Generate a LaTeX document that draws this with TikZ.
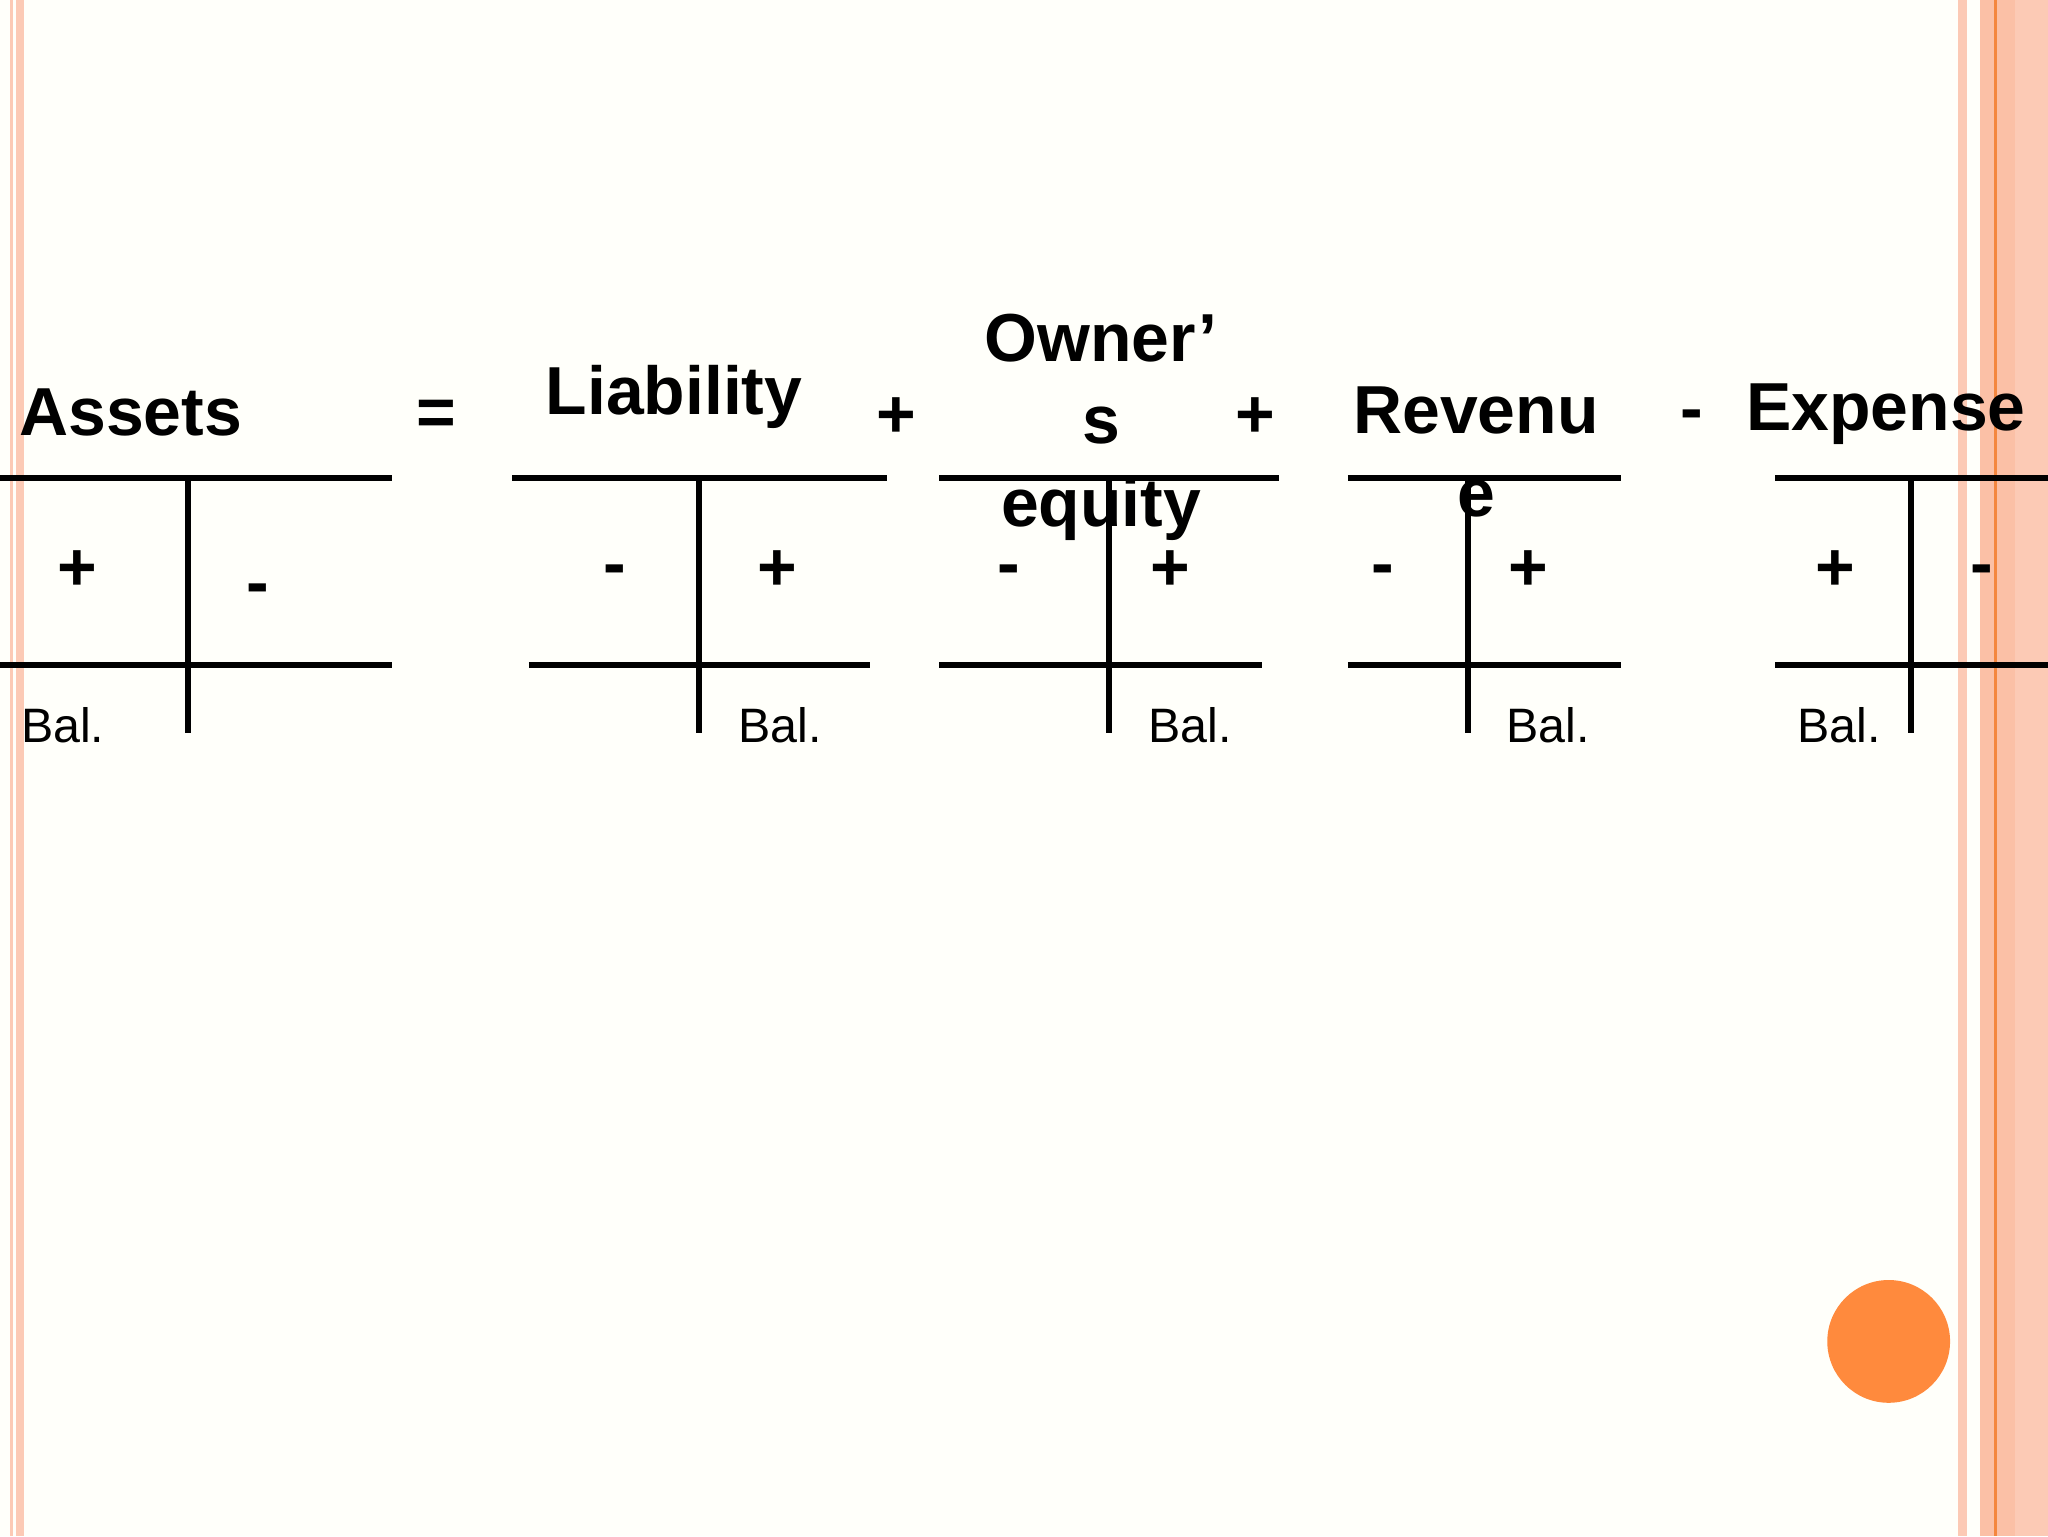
\documentclass[tikz,border=0pt]{standalone}
\usepackage{fontspec}
\setmainfont{Liberation Sans}
\begin{document}
\begin{tikzpicture}[x=1pt,y=-1pt,
  ln/.style={line width=4.5pt},
  lbl/.style={font=\bfseries\fontsize{52}{63}\selectfont,inner sep=0pt,align=center},
  sg/.style={font=\bfseries\fontsize{52}{56}\selectfont,inner sep=0pt},
  bal/.style={font=\fontsize{37}{40}\selectfont,inner sep=0pt,anchor=west}]
\definecolor{strp}{HTML}{FCCAB5}
\definecolor{strpd}{HTML}{FBC0A6}
\definecolor{org}{HTML}{F4873F}
\definecolor{circ}{HTML}{FF8A3D}
\fill[white!98!yellow] (0,0) rectangle (1568,1176);
\useasboundingbox (0,0) rectangle (1568,1176);
% borders
\fill[strp] (8,0) rectangle (10,1176);
\fill[strp] (12,0) rectangle (18,1176);
\fill[strp] (1499,0) rectangle (1506,1176);
\fill[strpd] (1516,0) rectangle (1543,1176);
\fill[strp] (1543,0) rectangle (1568,1176);
\fill[org] (1527,0) rectangle (1529,1176);
% headings
\node[lbl] (assets) at (100,316) {Assets};
\node[lbl] (eq) at (334,320) {=};
\node[lbl] (liab) at (516,304) {Liability};
\node[lbl] (p1) at (686,320) {+};
\node[lbl] (oe) at (843,327) {Owner’\\s\\equity};
\node[lbl] (p2) at (961,320) {+};
\node[lbl] (rev) at (1130,346) {Revenu\\e};
\node[lbl] (m1) at (1295,322) {-};
\node[lbl] (exp) at (1444,317) {Expense};
% T accounts
\coordinate (a1) at (0,366); \coordinate (a2) at (300,366);
\coordinate (a3) at (0,509); \coordinate (a4) at (300,509);
\coordinate (a5) at (144,366); \coordinate (a6) at (144,561);
\draw[ln] (a1)--(a2); \draw[ln] (a3)--(a4); \draw[ln] (a5)--(a6);
\coordinate (b1) at (392,366); \coordinate (b2) at (679,366);
\coordinate (b3) at (405,509); \coordinate (b4) at (666,509);
\coordinate (b5) at (535,366); \coordinate (b6) at (535,561);
\draw[ln] (b1)--(b2); \draw[ln] (b3)--(b4); \draw[ln] (b5)--(b6);
\coordinate (c1) at (719,366); \coordinate (c2) at (979,366);
\coordinate (c3) at (719,509); \coordinate (c4) at (966,509);
\coordinate (c5) at (849,366); \coordinate (c6) at (849,561);
\draw[ln] (c1)--(c2); \draw[ln] (c3)--(c4); \draw[ln] (c5)--(c6);
\coordinate (d1) at (1032,366); \coordinate (d2) at (1241,366);
\coordinate (d3) at (1032,509); \coordinate (d4) at (1241,509);
\coordinate (d5) at (1124,366); \coordinate (d6) at (1124,561);
\draw[ln] (d1)--(d2); \draw[ln] (d3)--(d4); \draw[ln] (d5)--(d6);
\coordinate (e1) at (1359,366); \coordinate (e2) at (1568,366);
\coordinate (e3) at (1359,509); \coordinate (e4) at (1568,509);
\coordinate (e5) at (1463,366); \coordinate (e6) at (1463,561);
\draw[ln] (e1)--(e2); \draw[ln] (e3)--(e4); \draw[ln] (e5)--(e6);
% signs
\node[sg] (s1) at (59,437) {+};
\node[sg] (s2) at (197,455) {-};
\node[sg] (s3) at (471,441) {-};
\node[sg] (s4) at (595,437) {+};
\node[sg] (s5) at (772,441) {-};
\node[sg] (s6) at (896,437) {+};
\node[sg] (s7) at (1059,441) {-};
\node[sg] (s8) at (1170,437) {+};
\node[sg] (s9) at (1405,437) {+};
\node[sg] (s10) at (1517,441) {-};
% balances
\node[bal] (bl1) at (16,555) {Bal.};
\node[bal] (bl2) at (565,555) {Bal.};
\node[bal] (bl3) at (879,555) {Bal.};
\node[bal] (bl4) at (1153,555) {Bal.};
\node[bal] (bl5) at (1376,555) {Bal.};
% circle
\fill[circ] (1446,1027) circle (47);
\end{tikzpicture}
\end{document}
